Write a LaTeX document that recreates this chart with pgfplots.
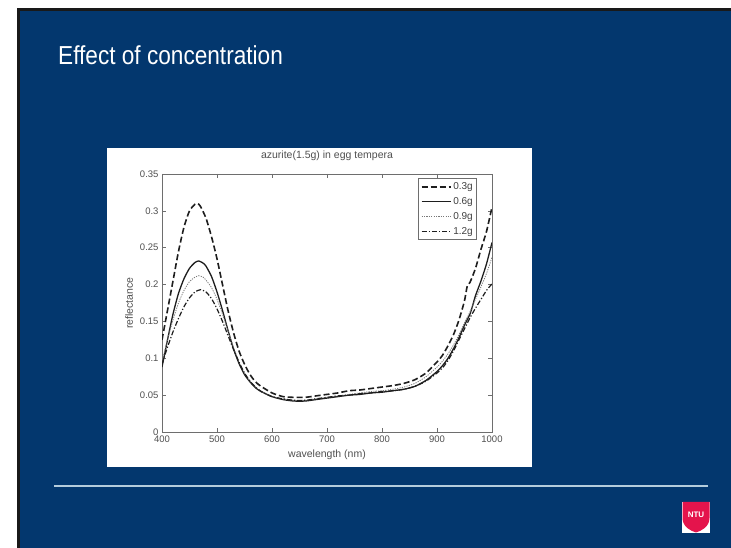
\documentclass[border=0pt]{standalone}
\usepackage{pgfplots}
\pgfplotsset{compat=1.18}
\usepackage{graphicx}
\usepackage{fontspec}
\setmainfont{Liberation Sans}
\definecolor{slideblue}{RGB}{3,55,110}
\definecolor{rulecol}{RGB}{180,204,220}
\definecolor{ntured}{RGB}{228,20,76}
\definecolor{axgray}{RGB}{110,110,110}
\definecolor{txtgray}{RGB}{80,80,80}
\definecolor{curve}{RGB}{30,30,30}
\begin{document}
\begin{tikzpicture}
\useasboundingbox (0,0) rectangle (731bp,548bp);
\fill[white] (0,0) rectangle (731bp,548bp);
\fill[black!90] (17bp,0) rectangle (731bp,540bp);
\fill[slideblue] (20bp,0) rectangle (731bp,537bp);
\node[anchor=base west, text=white, inner sep=0] at (58bp,483bp) {\scalebox{0.87}[1]{\fontsize{26bp}{30bp}\selectfont Effect of concentration}};
\draw[rulecol, line width=1.5bp] (54bp,62bp) -- (708bp,62bp);
% logo
\fill[white] (682bp,15bp) rectangle (710bp,46bp);
\fill[ntured] (682.5bp,46bp) -- (709.5bp,46bp) -- (709.5bp,30bp) .. controls (709.5bp,21bp) and (701bp,17bp) .. (696bp,15.5bp) .. controls (691bp,17bp) and (682.5bp,21bp) .. (682.5bp,30bp) -- cycle;
\node[text=white, inner sep=0] at (696bp,33bp) {\fontsize{8bp}{9bp}\selectfont\bfseries NTU};
% chart background
\fill[white] (107bp,81bp) rectangle (532bp,400bp);
\begin{axis}[
  at={(162bp,116bp)}, anchor=south west,
  scale only axis, width=330bp, height=258bp,
  xmin=400, xmax=1000, ymin=0, ymax=0.35,
  xtick={400,500,600,700,800,900,1000},
  xticklabels={400,500,600,700,800,900,1000},
  ytick={0,0.05,0.1,0.15,0.2,0.25,0.3,0.35},
  yticklabels={0,0.05,0.1,0.15,0.2,0.25,0.3,0.35},
  axis line style={axgray, line width=0.7bp},
  tick style={axgray, line width=0.6bp},
  major tick length=4bp,
  tick align=inside,
  /pgf/number format/assume math mode=true,
  ticklabel style={font=\fontsize{9.5bp}{11bp}\selectfont, text=txtgray},
  xlabel={wavelength (nm)}, ylabel={reflectance},
  label style={font=\fontsize{10.5bp}{12bp}\selectfont, text=txtgray},
  xlabel style={at={(axis description cs:0.5,-0.089)}, anchor=center},
  ylabel style={at={(axis description cs:-0.1,0.5)}, anchor=center},
  title={azurite(1.5g) in egg tempera},
  title style={at={(axis description cs:0.5,1.047)}, anchor=center, font=\fontsize{10.5bp}{12bp}\selectfont, text=txtgray},
  legend style={at={(axis description cs:0.955,0.984)}, anchor=north east, draw=axgray, line width=0.7bp,
    font=\fontsize{10bp}{11bp}\selectfont, text=black!75, inner sep=2bp, row sep=2.5bp, cells={anchor=west}},
  legend image code/.code={\draw[#1] (0cm,0cm) -- (1.02cm,0cm);},
  every axis plot/.append style={line join=round},
]
\addplot[curve, line width=1.6bp, dash pattern=on 6bp off 3bp, smooth, tension=0.4] coordinates {
(400,0.125) (410,0.165) (420,0.205) (430,0.245) (440,0.278) (450,0.300) (460,0.309) (465,0.310) (470,0.306) (480,0.290) (490,0.265) (500,0.235) (510,0.200) (520,0.165) (530,0.135) (540,0.110) (550,0.092) (560,0.078) (570,0.068) (580,0.062) (600,0.053) (620,0.048) (640,0.047) (660,0.047) (680,0.049) (700,0.051) (720,0.053) (740,0.056) (760,0.057) (780,0.059) (800,0.061) (820,0.063) (840,0.066) (860,0.071) (880,0.080) (900,0.095) (910,0.104) (920,0.117) (930,0.132) (940,0.152) (950,0.178) (955,0.198) (960,0.203) (970,0.222) (980,0.248) (990,0.272) (1000,0.305)
};
\addlegendentry{0.3g}
\addplot[curve, line width=1.3bp, smooth, tension=0.4] coordinates {
(400,0.088) (410,0.125) (420,0.160) (430,0.188) (440,0.208) (450,0.222) (460,0.230) (467,0.232) (475,0.229) (480,0.225) (490,0.211) (500,0.190) (510,0.165) (520,0.138) (530,0.113) (540,0.093) (550,0.078) (560,0.068) (570,0.060) (580,0.055) (600,0.048) (620,0.044) (640,0.042) (660,0.042) (680,0.044) (700,0.046) (720,0.048) (740,0.050) (760,0.051) (780,0.053) (800,0.054) (820,0.056) (840,0.058) (860,0.062) (880,0.070) (900,0.082) (910,0.090) (920,0.100) (930,0.113) (940,0.128) (950,0.145) (960,0.160) (965,0.172) (970,0.185) (980,0.205) (990,0.228) (1000,0.257)
};
\addlegendentry{0.6g}
\addplot[curve!60, line width=0.8bp, dash pattern=on 1.2bp off 1.2bp, smooth, tension=0.4] coordinates {
(400,0.095) (410,0.125) (420,0.152) (430,0.175) (440,0.192) (450,0.204) (460,0.210) (467,0.212) (475,0.210) (480,0.206) (490,0.196) (500,0.180) (510,0.160) (520,0.137) (530,0.115) (540,0.095) (550,0.080) (560,0.069) (570,0.061) (580,0.055) (600,0.048) (620,0.045) (640,0.043) (660,0.043) (680,0.045) (700,0.047) (720,0.049) (740,0.051) (760,0.053) (780,0.055) (800,0.056) (820,0.058) (840,0.061) (860,0.066) (880,0.075) (900,0.088) (910,0.096) (920,0.106) (930,0.118) (940,0.132) (950,0.148) (960,0.163) (970,0.180) (980,0.197) (990,0.215) (1000,0.237)
};
\addlegendentry{0.9g}
\addplot[curve, line width=1.2bp, dash pattern=on 5bp off 2bp on 1.2bp off 2bp, smooth, tension=0.4] coordinates {
(400,0.092) (410,0.115) (420,0.136) (430,0.154) (440,0.170) (450,0.182) (460,0.190) (470,0.193) (480,0.190) (490,0.181) (500,0.167) (510,0.150) (520,0.131) (530,0.112) (540,0.095) (550,0.080) (560,0.069) (570,0.061) (580,0.055) (600,0.048) (620,0.045) (640,0.043) (660,0.043) (680,0.045) (700,0.047) (720,0.049) (740,0.050) (760,0.052) (780,0.053) (800,0.055) (820,0.056) (840,0.058) (860,0.062) (880,0.069) (900,0.080) (910,0.087) (920,0.097) (930,0.110) (940,0.125) (950,0.140) (960,0.155) (970,0.168) (980,0.180) (990,0.192) (1000,0.201)
};
\addlegendentry{1.2g}
\end{axis}
\end{tikzpicture}
\end{document}
